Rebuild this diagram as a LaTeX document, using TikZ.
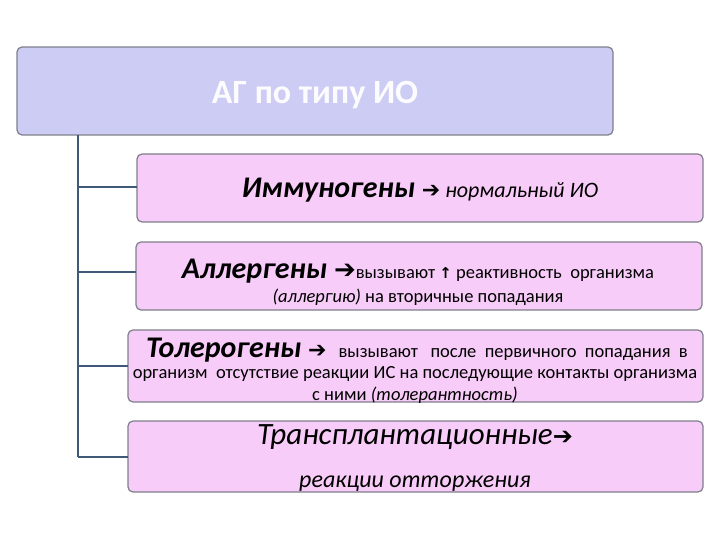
\documentclass[tikz,border=0pt]{standalone}
\usepackage{fontspec}
\setmainfont{Carlito}
\newfontfamily\djvfont{DejaVu Sans}
\definecolor{topf}{HTML}{CCCCF5}
\definecolor{pinkf}{HTML}{F8CCF8}
\definecolor{bord}{HTML}{7F7F8A}
\definecolor{conn}{HTML}{3F5A78}
\tikzset{
 topbox/.style={draw=bord,line width=1.2pt,fill=topf,rounded corners=5pt},
 pinkbox/.style={draw=bord,line width=1.2pt,fill=pinkf,rounded corners=5pt},
 conn/.style={draw=conn,line width=1.2pt},
 sm/.style={font=\fontsize{18.5}{20}\selectfont},
}
\newcommand{\arr}{{\djvfont\bfseries ➔}}
\begin{document}
\begin{tikzpicture}[x=1pt,y=-1pt]
\useasboundingbox (0,0) rectangle (720,540);
\draw[topbox] (17,47) rectangle (613,135);
\node[text=white!95!topf,font=\fontsize{34}{36}\selectfont\bfseries] (t) at (315,95) {АГ по типу ИО};
\draw[pinkbox] (137,154) rectangle (703,222);
\draw[pinkbox] (136,242) rectangle (702,310);
\draw[pinkbox] (128,330) rectangle (703,402);
\draw[pinkbox] (128,421) rectangle (703,492);
\coordinate (v0) at (78,135);
\coordinate (v4) at (78,457);
\coordinate (h1) at (78,187); \coordinate (b1) at (137,187);
\coordinate (h2) at (78,272); \coordinate (b2) at (136,272);
\coordinate (h3) at (78,366); \coordinate (b3) at (128,366);
\coordinate (h4) at (78,457); \coordinate (b4) at (128,457);
\draw[conn] (v0)--(v4);
\draw[conn] (h1)--(b1); \draw[conn] (h2)--(b2); \draw[conn] (h3)--(b3); \draw[conn] (h4)--(b4);
\node[anchor=base] (l1) at (420,197) {{\fontsize{30}{32}\selectfont\bfseries\itshape Иммуногены }{\fontsize{22}{24}\selectfont\arr\ \itshape нормальный ИО}};
\node[anchor=base] (l2) at (418,278) {{\fontsize{30}{32}\selectfont\bfseries\itshape Аллергены }{\fontsize{26}{28}\selectfont\arr}{\fontsize{18.5}{20}\selectfont вызывают {\djvfont\bfseries\fontsize{15}{16}\selectfont ↑} реактивность\ \ организма}};
\node[anchor=base,sm] (l2b) at (418,302) {\textit{(аллергию)} на вторичные попадания};
\node[anchor=base west,inner sep=0pt] (l3) at (146,357) {{\fontsize{30}{32}\selectfont\bfseries\itshape Толерогены }{\fontsize{22}{24}\selectfont\arr}};
\node[anchor=base east,sm,inner sep=0pt] (l3a) at (688,357) {вызывают\ \ \ после\ \ первичного\ \ попадания\ \ в};
\node[anchor=base,sm] (l3b) at (415,378) {организм\ \ отсутствие реакции ИС на последующие контакты организма};
\node[anchor=base,sm] (l3c) at (415,400) {с ними\ \textit{(толерантность)}};
\node[anchor=base] (l4) at (415,444) {{\fontsize{31}{33}\selectfont\itshape Трансплантационные}{\fontsize{24}{26}\selectfont\arr}};
\node[anchor=base] (l4b) at (415,487) {\fontsize{24}{26}\selectfont\itshape реакции отторжения};
\end{tikzpicture}
\end{document}
